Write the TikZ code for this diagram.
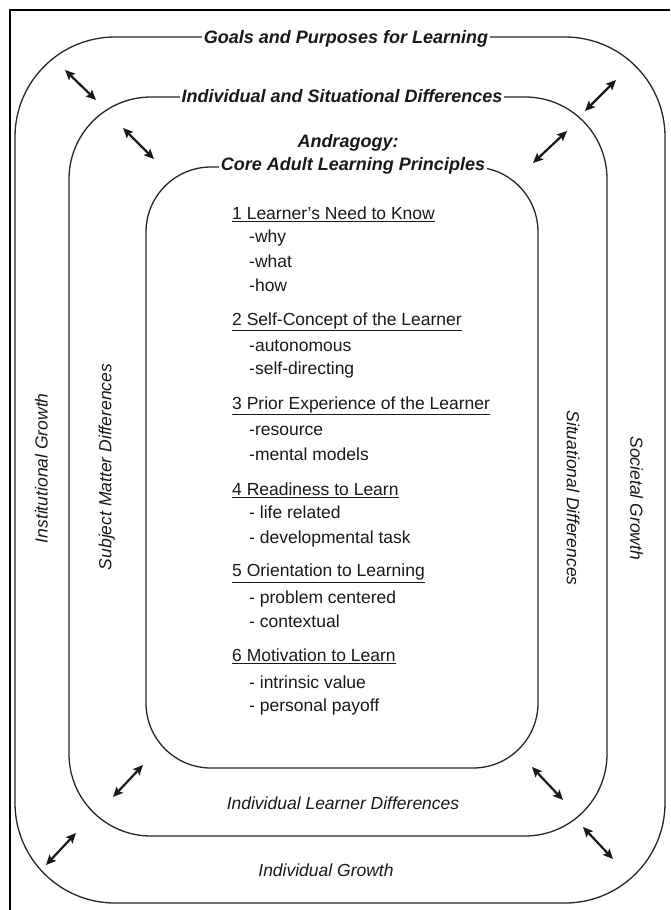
\documentclass[tikz,border=0pt]{standalone}
\usepackage{fontspec}
\setmainfont{Liberation Sans}
\usetikzlibrary{positioning,calc,arrows.meta}

\begin{document}
\begin{tikzpicture}[x=1pt,y=-1pt,
        ringnode/.style={rectangle, draw=black!85, line width=1.3pt, inner sep=0pt},
        titlenode/.style={fill=white, inner sep=2pt, text=black!90, font=\fontsize{18}{20}\selectfont\bfseries\itshape},
        sidenode/.style={inner sep=0pt, text=black!90, font=\fontsize{17.5}{20}\selectfont\itshape},
        headnode/.style={inner sep=0pt, text height=13pt, text depth=4pt, text=black!90, font=\fontsize{17.5}{20}\selectfont},
        itemnode/.style={headnode},
        twoway/.style={{Stealth[length=10pt,width=9pt,inset=2pt]}-{Stealth[length=10pt,width=9pt,inset=2pt]}, line width=2.2pt, black!90},
        ]
        \useasboundingbox (0,0) rectangle (670,910);
        %Frame
        \draw[line width=2pt] (10,910) -- (10,10) -- (670,10);

        %Rings
        \node[ringnode, minimum width=650pt, minimum height=866pt, rounded corners=100pt] (outer) at (340,470) {};
        \node[ringnode, minimum width=538pt, minimum height=739pt, rounded corners=82pt] (middle) at (338,466.5) {};
        \node[ringnode, minimum width=392pt, minimum height=601pt, rounded corners=65pt] (inner) at (342,467.5) {};

        %Titles on the rings
        \node[titlenode] (goals) [xshift=6pt, yshift=-2pt] at (outer.north) {Goals and Purposes for Learning};
        \node[titlenode] (indsit) [xshift=4pt] at (middle.north) {Individual and Situational Differences};
        \node[titlenode] (core) [xshift=11pt, yshift=1pt] at (inner.north) {Core Adult Learning Principles};
        \node[titlenode, fill=none] (andragogy) [above=1pt of core, xshift=-5pt] {Andragogy:};

        %Side labels
        \node[sidenode, rotate=90] (instgrowth) at ($(outer.west)!0.5!(middle.west)$) {Institutional Growth};
        \node[sidenode, rotate=90] (subject) at ($(middle.west)!0.5!(inner.west)$) {Subject Matter Differences};
        \node[sidenode, rotate=-90] (situational) at ($(inner.east)!0.5!(middle.east)+(0,31)$) {Situational Differences};
        \node[sidenode, rotate=-90] (societal) at ($(middle.east)!0.5!(outer.east)+(0,30)$) {Societal Growth};
        \node[sidenode] (learnerdiff) at ($(inner.south)!0.5!(middle.south)+(3,1)$) {Individual Learner Differences};
        \node[sidenode] (indgrowth) at ($(middle.south)!0.5!(outer.south)+(-13,0)$) {Individual Growth};

        %Principles
        \node[headnode, anchor=west] (need) at (232,215) {\underline{1 Learner's Need to Know}};
        \node[itemnode] (why) [below=6pt of need.south west, anchor=north west, xshift=17pt] {-why};
        \node[itemnode] (what) [below=7pt of why.south west, anchor=north west] {-what};
        \node[itemnode] (how) [below=7pt of what.south west, anchor=north west] {-how};
        \node[headnode] (self) [below=16pt of how.south west, anchor=north west, xshift=-17pt] {\underline{2 Self-Concept of the Learner}};
        \node[itemnode] (auto) [below=9pt of self.south west, anchor=north west, xshift=17pt] {-autonomous};
        \node[itemnode] (selfdir) [below=6pt of auto.south west, anchor=north west] {-self-directing};
        \node[headnode] (prior) [below=17pt of selfdir.south west, anchor=north west, xshift=-17pt] {\underline{3 Prior Experience of the Learner}};
        \node[itemnode] (resource) [below=9pt of prior.south west, anchor=north west, xshift=17pt] {-resource};
        \node[itemnode] (mental) [below=7pt of resource.south west, anchor=north west] {-mental models};
        \node[headnode] (ready) [below=18pt of mental.south west, anchor=north west, xshift=-17pt] {\underline{4 Readiness to Learn}};
        \node[itemnode] (life) [below=6pt of ready.south west, anchor=north west, xshift=17pt] {- life related};
        \node[itemnode] (devel) [below=7pt of life.south west, anchor=north west] {- developmental task};
        \node[headnode] (orient) [below=16pt of devel.south west, anchor=north west, xshift=-17pt] {\underline{5 Orientation to Learning}};
        \node[itemnode] (problem) [below=9pt of orient.south west, anchor=north west, xshift=17pt] {- problem centered};
        \node[itemnode] (context) [below=7pt of problem.south west, anchor=north west] {- contextual};
        \node[headnode] (motiv) [below=17pt of context.south west, anchor=north west, xshift=-17pt] {\underline{6 Motivation to Learn}};
        \node[itemnode] (intrinsic) [below=9pt of motiv.south west, anchor=north west, xshift=17pt] {- intrinsic value};
        \node[itemnode] (payoff) [below=6pt of intrinsic.south west, anchor=north west] {- personal payoff};

        %Two-way arrows between the rings
        \foreach \i/\ax/\ay/\bx/\by in {1/65/70/96/100, 2/123/128/154/159, 3/585/111/616/80, 4/533/163/567/131,
                5/113/797/143/765, 6/46/865/76/833, 7/532/767/563/800, 8/583/827/613/859} {
            \coordinate (a\i) at (\ax,\ay);
            \coordinate (b\i) at (\bx,\by);
            \draw[twoway] (a\i) -- (b\i);
        }
    \end{tikzpicture}
\end{document}
